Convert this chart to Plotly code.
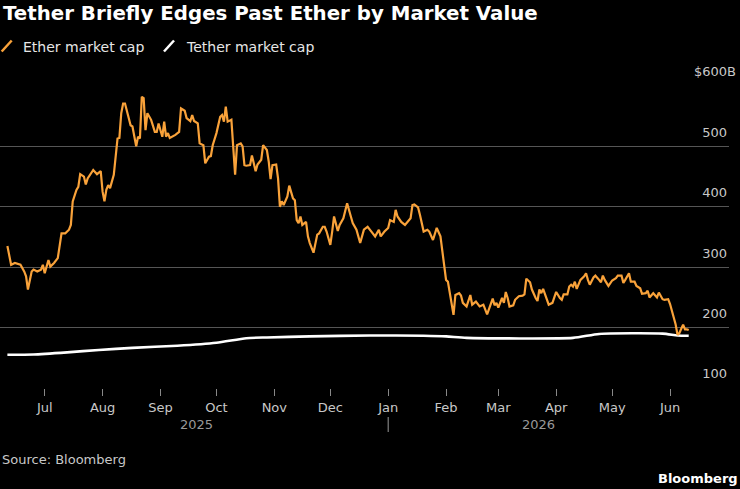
import plotly.graph_objects as go

# ---- data (billions USD) ----
ether_dates = [
    "2025-06-11","2025-06-13","2025-06-15","2025-06-18","2025-06-20","2025-06-21","2025-06-22","2025-06-24",
    "2025-06-25","2025-06-27","2025-06-29","2025-06-30","2025-07-01","2025-07-03","2025-07-04","2025-07-06",
    "2025-07-08","2025-07-10","2025-07-12","2025-07-14","2025-07-15","2025-07-16","2025-07-18","2025-07-19",
    "2025-07-20","2025-07-22","2025-07-23","2025-07-24","2025-07-27","2025-07-29","2025-07-31","2025-08-01",
    "2025-08-02","2025-08-03","2025-08-04","2025-08-05","2025-08-07","2025-08-09","2025-08-10","2025-08-11",
    "2025-08-12","2025-08-13","2025-08-15","2025-08-16","2025-08-17","2025-08-19","2025-08-20","2025-08-21",
    "2025-08-22","2025-08-23","2025-08-24","2025-08-25","2025-08-27","2025-08-28","2025-08-29","2025-08-30",
    "2025-08-31","2025-09-02","2025-09-03","2025-09-04","2025-09-05","2025-09-06","2025-09-09","2025-09-11",
    "2025-09-12","2025-09-14","2025-09-15","2025-09-17","2025-09-18","2025-09-19","2025-09-21","2025-09-22",
    "2025-09-24","2025-09-25","2025-09-27","2025-09-28","2025-09-29","2025-10-01","2025-10-03","2025-10-04",
    "2025-10-05","2025-10-06","2025-10-07","2025-10-09","2025-10-10","2025-10-11","2025-10-12","2025-10-14",
    "2025-10-15","2025-10-16","2025-10-17","2025-10-19","2025-10-20","2025-10-22","2025-10-23","2025-10-25",
    "2025-10-26","2025-10-28","2025-10-29","2025-10-30","2025-10-31","2025-11-02","2025-11-03","2025-11-04",
    "2025-11-05","2025-11-06","2025-11-08","2025-11-09","2025-11-11","2025-11-12","2025-11-13","2025-11-14",
    "2025-11-15","2025-11-16","2025-11-18","2025-11-19","2025-11-20","2025-11-22","2025-11-24","2025-11-25",
    "2025-11-27","2025-11-28","2025-11-29","2025-12-01","2025-12-02","2025-12-03","2025-12-05","2025-12-06",
    "2025-12-08","2025-12-10","2025-12-12","2025-12-13","2025-12-15","2025-12-16","2025-12-17","2025-12-19",
    "2025-12-21","2025-12-23","2025-12-25","2025-12-27","2025-12-28","2025-12-30","2026-01-01","2026-01-02",
    "2026-01-04","2026-01-05","2026-01-06","2026-01-08","2026-01-10","2026-01-13","2026-01-14","2026-01-15",
    "2026-01-17","2026-01-18","2026-01-20","2026-01-22","2026-01-23","2026-01-25","2026-01-27","2026-01-29",
    "2026-01-30","2026-01-31","2026-02-01","2026-02-02","2026-02-03","2026-02-05","2026-02-06","2026-02-08",
    "2026-02-09","2026-02-10","2026-02-12","2026-02-14","2026-02-15","2026-02-17","2026-02-19","2026-02-21",
    "2026-02-23","2026-02-26","2026-02-27","2026-02-28","2026-03-01","2026-03-03","2026-03-04","2026-03-05",
    "2026-03-06","2026-03-07","2026-03-09","2026-03-10","2026-03-12","2026-03-14","2026-03-15","2026-03-16",
    "2026-03-18","2026-03-19","2026-03-21","2026-03-22","2026-03-23","2026-03-24","2026-03-25","2026-03-27",
    "2026-03-28","2026-03-30","2026-04-01","2026-04-03","2026-04-04","2026-04-05","2026-04-07","2026-04-08",
    "2026-04-09","2026-04-10","2026-04-11","2026-04-12","2026-04-14","2026-04-16","2026-04-17","2026-04-18",
    "2026-04-19","2026-04-21","2026-04-22","2026-04-24","2026-04-25","2026-04-26","2026-04-27","2026-04-29",
    "2026-05-01","2026-05-03","2026-05-04","2026-05-06","2026-05-07","2026-05-08","2026-05-10","2026-05-11",
    "2026-05-13","2026-05-14","2026-05-16","2026-05-17","2026-05-19","2026-05-20","2026-05-21","2026-05-23",
    "2026-05-25","2026-05-26","2026-05-28","2026-05-29","2026-05-31","2026-06-01","2026-06-03","2026-06-04",
    "2026-06-05","2026-06-06","2026-06-08","2026-06-09","2026-06-10","2026-06-11",
]
ether_cap = [
    335,304,307,304,293,285,263,293,
    296,293,296,304,290,312,301,307,
    315,356,356,362,370,409,428,433,
    454,450,437,447,461,454,459,425,
    409,428,436,431,453,513,514,555,
    571,571,547,535,533,500,516,513,
    582,580,527,555,544,533,524,524,
    538,516,541,516,522,514,519,524,
    563,559,547,542,552,542,538,505,
    502,472,483,484,502,522,549,552,
    541,566,541,544,502,453,502,505,
    500,469,468,469,485,459,470,478,
    502,494,475,446,469,470,447,400,
    409,403,417,435,414,411,378,373,
    384,370,375,351,340,324,354,356,
    367,367,359,337,359,384,360,370,
    381,406,384,373,362,351,340,362,
    367,359,351,362,351,359,365,378,
    375,395,384,375,370,381,403,404,
    399,387,359,362,359,345,365,351,
    326,304,279,276,257,221,254,257,
    253,241,235,254,238,243,235,238,
    222,248,237,241,233,249,241,259,
    249,235,237,246,252,253,255,281,
    275,263,249,244,263,257,264,246,
    238,241,259,249,246,255,255,268,
    271,268,276,264,279,285,290,279,
    271,283,286,279,275,286,279,269,
    278,282,286,286,274,279,290,276,
    276,269,265,256,257,261,250,257,
    250,258,247,246,247,239,216,205,
    188,191,205,197,197,196,
]

tether_dates = [
    "2025-06-11","2025-06-25","2025-07-13","2025-07-30","2025-08-17","2025-09-10",
    "2025-10-01","2025-10-17","2025-10-28","2025-11-20","2025-12-22","2026-01-20",
    "2026-02-01","2026-02-12","2026-04-10","2026-04-24","2026-05-28","2026-06-05",
    "2026-06-11",
]
tether_cap = [
    155,155.5,159,163,166.5,170,
    175,182.5,183.7,185.4,187,186.5,
    185.5,183,183,189.5,190,187,
    186.5,
]

month_ticks = ["2025-07-01","2025-08-01","2025-09-01","2025-10-01","2025-11-01","2025-12-01",
               "2026-01-01","2026-02-01","2026-03-01","2026-04-01","2026-05-01","2026-06-01"]
y_ticks = [100, 200, 300, 400, 500, 600]
y_ticktext = ["100", "200", "300", "400", "500", "$600"]
years = ["2025", "2026"]

ORANGE = "#f9a23a"
GRID = "#555555"
TXT = "#c8c8c8"
FONT = "DejaVu Sans"

fig = go.Figure()
fig.add_trace(go.Scatter(x=tether_dates, y=tether_cap, mode="lines",
                         line=dict(color="white", width=2.6, shape="spline", smoothing=0.6),
                         name="Tether market cap", showlegend=False))
fig.add_trace(go.Scatter(x=ether_dates, y=ether_cap, mode="lines",
                         line=dict(color=ORANGE, width=2.2),
                         name="Ether market cap", showlegend=False))

invis = "<span style='color:rgba(0,0,0,0)'>B</span>"
ticktext = [t + ("B" if t.startswith("$") else invis) for t in y_ticktext]

fig.update_layout(
    width=740, height=489,
    margin=dict(l=0, r=11, t=86, b=101),
    paper_bgcolor="black", plot_bgcolor="black",
    font=dict(family=FONT, color=TXT, size=13),
    title=dict(text="<b>Tether Briefly Edges Past Ether by Market Value</b>",
               x=0.004, xref="container", xanchor="left",
               y=0.988, yref="container", yanchor="top",
               font=dict(family=FONT, size=19.8, color="white")),
    xaxis=dict(
        range=["2025-06-07 01:00", "2026-07-02 14:00"],
        type="date", tickvals=month_ticks, tickformat="%b",
        ticks="outside", ticklen=7, tickcolor="#888888", tickwidth=1,
        showgrid=False, zeroline=False, showline=False,
        tickfont=dict(size=13, color=TXT),
    ),
    yaxis=dict(
        range=[100, 600], side="right",
        tickvals=y_ticks, ticktext=ticktext,
        ticklabelposition="inside top", ticklabeloverflow="allow",
        ticklabelstandoff=-10, ticklabelshift=-5,
        showgrid=True, gridcolor=GRID, gridwidth=1,
        zeroline=False, showline=False, ticks="",
        tickfont=dict(size=13, color=TXT),
    ),
)

# legend (manual, slash icons)
H = 302.0
def py(pix):
    return (388.0 - pix) / H
def px(pix):
    return pix / 729.0

for x0, col, label in [(1.7, ORANGE, "Ether market cap"), (164.0, "white", "Tether market cap")]:
    fig.add_shape(type="line", xref="paper", yref="paper",
                  x0=px(x0), y0=py(51.5), x1=px(x0 + 10), y1=py(40.5),
                  line=dict(color=col, width=2.5))
    fig.add_annotation(text=label, xref="paper", yref="paper",
                       x=px(x0 + 19.5), y=py(47), xanchor="left", yanchor="middle",
                       showarrow=False, font=dict(size=14, color="#e6e6e6"))

# year labels and separator
fig.add_annotation(text=years[0], xref="paper", yref="paper", x=px(197), y=py(424),
                   xanchor="center", yanchor="middle", showarrow=False,
                   font=dict(size=13, color="#999999"))
fig.add_annotation(text=years[1], xref="paper", yref="paper", x=px(538), y=py(424),
                   xanchor="center", yanchor="middle", showarrow=False,
                   font=dict(size=13, color="#999999"))
fig.add_shape(type="line", xref="x", yref="paper", x0="2026-01-01", x1="2026-01-01",
              y0=py(417), y1=py(432), line=dict(color="#999999", width=1))

fig.add_annotation(text="Source: Bloomberg", xref="paper", yref="paper", x=0, y=py(460),
                   xanchor="left", yanchor="middle", showarrow=False,
                   font=dict(size=13, color=TXT))
fig.add_annotation(text="<b>Bloomberg</b>", xref="paper", yref="paper", x=px(740), y=py(478),
                   xanchor="right", yanchor="middle", showarrow=False,
                   font=dict(size=13, color="white"))

fig.write_html("out.html")
